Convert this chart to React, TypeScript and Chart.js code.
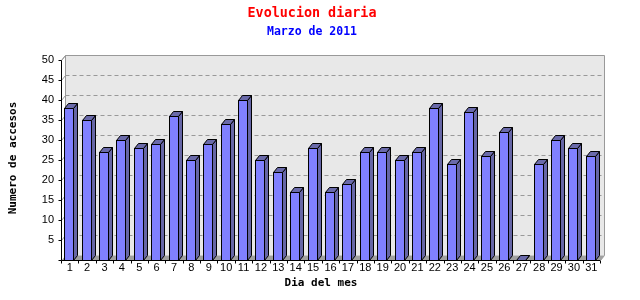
import React, { useEffect, useRef } from "react";
import { Chart, registerables } from "chart.js";

Chart.register(...registerables);

const days = ["1","2","3","4","5","6","7","8","9","10","11","12","13","14","15","16","17","18","19","20","21","22","23","24","25","26","27","28","29","30","31"];
const visits = [38,35,27,30,28,29,36,25,29,34,40,25,22,17,28,17,19,27,27,25,27,38,24,37,26,32,0,24,30,28,26];
const yMax = 50;
const yStep = 5;
const titleText = "Evolucion diaria";
const subtitleText = "Marzo de 2011";
const xTitle = "Dia del mes";
const yTitle = "Numero de accesos";

const DX = 4;
const DY = 5;

const threeD = {
  id: "threeD",
  beforeDatasetsDraw(chart: any) {
    const ctx = chart.ctx;
    const a = chart.chartArea;
    const L = Math.round(a.left) + 0.5;
    const R = Math.round(a.right) + 0.5;
    const T = Math.round(a.top) + 0.5;
    const B = Math.round(a.bottom) + 0.5;
    const ys = chart.scales.y;
    ctx.save();
    ctx.fillStyle = "#e8e8e8";
    ctx.fillRect(L + DX, T - DY, R - L, B - T);
    ctx.strokeStyle = "#999999";
    ctx.lineWidth = 1;
    ctx.beginPath();
    ctx.moveTo(L, T);
    ctx.lineTo(L + DX, T - DY);
    ctx.lineTo(R + DX, T - DY);
    ctx.lineTo(R + DX, B - DY);
    ctx.moveTo(L + DX, T - DY);
    ctx.lineTo(L + DX, B - DY);
    ctx.stroke();
    ctx.fillStyle = "#a0a0a0";
    ctx.beginPath();
    ctx.moveTo(L, B);
    ctx.lineTo(L + DX, B - DY);
    ctx.lineTo(R + DX, B - DY);
    ctx.lineTo(R, B);
    ctx.closePath();
    ctx.fill();
    ctx.strokeStyle = "#999999";
    ys.ticks.forEach((t: any) => {
      if (t.value === 0) return;
      const y = Math.round(ys.getPixelForValue(t.value)) + 0.5;
      ctx.setLineDash([]);
      ctx.beginPath();
      ctx.moveTo(L, y);
      ctx.lineTo(L + DX, y - DY);
      ctx.stroke();
      if (t.value !== yMax) {
        ctx.setLineDash([4, 3]);
        ctx.beginPath();
        ctx.moveTo(L + DX, y - DY);
        ctx.lineTo(R + DX, y - DY);
        ctx.stroke();
      }
    });
    ctx.setLineDash([]);
    ctx.strokeStyle = "#000000";
    ctx.beginPath();
    ctx.moveTo(L, T);
    ctx.lineTo(L, B);
    ys.ticks.forEach((t: any) => {
      const y = Math.round(ys.getPixelForValue(t.value)) + 0.5;
      ctx.moveTo(L - 3, y);
      ctx.lineTo(L, y);
    });
    ctx.stroke();
    ctx.restore();
  },
  afterDatasetsDraw(chart: any) {
    const ctx = chart.ctx;
    const a = chart.chartArea;
    const L = Math.round(a.left) + 0.5;
    const R = Math.round(a.right) + 0.5;
    const B = Math.round(a.bottom) + 0.5;
    const meta = chart.getDatasetMeta(0);
    ctx.save();
    ctx.lineWidth = 1;
    ctx.strokeStyle = "#000000";
    meta.data.forEach((el: any) => {
      const p = el.getProps(["x", "y", "base", "width"], true);
      const w = Math.round(p.width);
      const l = Math.round(p.x - p.width / 2 - 1) + 0.5;
      const r = l + w;
      const t = Math.round(p.y) + 0.5;
      const b = B;
      ctx.fillStyle = "#8080ff";
      ctx.fillRect(l, t, w, b - t);
      ctx.strokeRect(l, t, w, b - t);
      ctx.fillStyle = "#6666a6";
      ctx.beginPath();
      ctx.moveTo(r, t);
      ctx.lineTo(r + DX, t - DY);
      ctx.lineTo(r + DX, b - DY);
      ctx.lineTo(r, b);
      ctx.closePath();
      ctx.fill();
      ctx.stroke();
      ctx.fillStyle = "#6a6aaa";
      ctx.beginPath();
      ctx.moveTo(l, t);
      ctx.lineTo(l + DX, t - DY);
      ctx.lineTo(r + DX, t - DY);
      ctx.lineTo(r, t);
      ctx.closePath();
      ctx.fill();
      ctx.stroke();
    });
    const xs = chart.scales.x;
    ctx.beginPath();
    ctx.moveTo(L, B);
    ctx.lineTo(R, B);
    const n = days.length;
    for (let i = 0; i <= n; i++) {
      const x = Math.round(xs.getPixelForValue(i - 0.5)) + 0.5;
      ctx.moveTo(x, B);
      ctx.lineTo(x, B + 3);
    }
    ctx.stroke();
    ctx.strokeStyle = "#999999";
    ctx.beginPath();
    ctx.moveTo(R, B);
    ctx.lineTo(R + DX, B - DY);
    ctx.stroke();
    ctx.restore();
  },
  afterDraw(chart: any) {
    const ctx = chart.ctx;
    ctx.save();
    ctx.textAlign = "center";
    ctx.textBaseline = "middle";
    ctx.fillStyle = "#ff0000";
    ctx.font = "bold 13.4px 'DejaVu Sans Mono'";
    ctx.fillText(titleText, 312, 14);
    ctx.fillStyle = "#0000ff";
    ctx.font = "bold 11.5px 'DejaVu Sans Mono'";
    ctx.fillText(subtitleText, 312, 32);
    ctx.fillStyle = "#000000";
    ctx.font = "bold 11px 'DejaVu Sans Mono'";
    ctx.fillText(xTitle, 321, 283);
    ctx.translate(13, 158);
    ctx.rotate(-Math.PI / 2);
    ctx.fillText(yTitle, 0, 0);
    ctx.restore();
  },
};

export default function App() {
  const ref = useRef<HTMLCanvasElement | null>(null);
  useEffect(() => {
    document.body.style.margin = "0";
    const canvas = ref.current!;
    const chart = new Chart(canvas, {
      type: "bar",
      data: {
        labels: days,
        datasets: [
          {
            data: visits,
            backgroundColor: "#8080ff",
            borderWidth: 0,
            barThickness: 9,
          },
        ],
      },
      options: {
        animation: false,
        responsive: false,
        devicePixelRatio: 1,
        layout: { padding: { top: 60, right: 40, left: 0, bottom: 0 } },
        plugins: { legend: { display: false }, tooltip: { enabled: false }, title: { display: false } },
        scales: {
          x: {
            grid: { display: false, drawTicks: false },
            border: { display: false },
            ticks: {
              color: "#000000",
              font: { family: "'Liberation Sans'", size: 11 },
              padding: 1,
              maxRotation: 0,
              autoSkip: false,
            },
            afterFit: (s: any) => { s.height = 40; },
          },
          y: {
            min: 0,
            max: yMax,
            grid: { display: false, drawTicks: false },
            border: { display: false },
            ticks: {
              stepSize: yStep,
              color: "#000000",
              font: { family: "'Liberation Sans'", size: 11 },
              padding: 7,
              callback: (v: any) => (v === 0 ? "" : String(v)),
            },
            afterFit: (s: any) => { s.width = 61; },
          },
        },
      },
      plugins: [threeD],
    });
    return () => chart.destroy();
  }, []);
  return (
    <div style={{ position: "absolute", left: 0, top: 0, width: 640, height: 300, background: "#ffffff" }}>
      <canvas ref={ref} width={640} height={300} style={{ width: 640, height: 300 }} />
    </div>
  );
}
